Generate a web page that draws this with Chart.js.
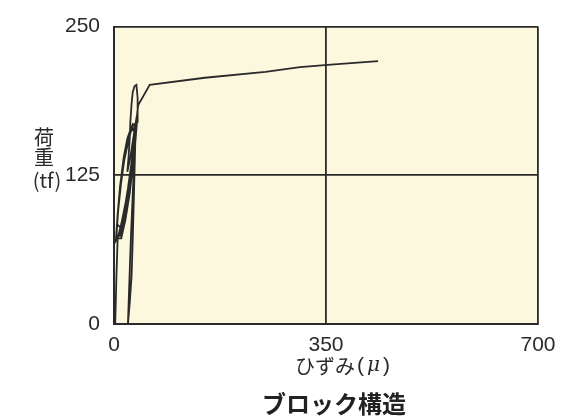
<!DOCTYPE html>
<html>
<head>
<meta charset="utf-8">
<script src="https://cdn.jsdelivr.net/npm/chart.js@4.4.0/dist/chart.umd.min.js"></script>
<style>
  html, body { margin: 0; padding: 0; background: #ffffff; }
  #wrap { width: 588px; height: 420px; }
</style>
</head>
<body>
<div id="wrap"><canvas id="c"></canvas></div>
<script>
// Load–strain record of the block structure (strain in μ, load in tf)
const strain = [
  2, 4, 6, 12, 20, 27, 32, 34,
  30, 24, 17, 11, 6, 3,
  9, 16, 23, 29, 33, 35,
  31, 25, 18, 12, 7, 4,
  11, 18, 25, 30, 34, 33,
  28, 21, 15, 9, 5,
  13, 20, 27, 31, 35, 34,
  29, 22, 16, 10, 6, 4,
  12, 19, 26, 31, 34, 36,
  35, 33, 31, 29, 26, 23,
  25, 28, 31, 34, 38, 39, 37, 34, 31,
  29, 27, 26, 24, 22,
  27, 33, 38, 40, 59, 150, 250, 307, 358, 436
];
const load = [
  0, 40, 72, 84, 104, 125, 145, 162,
  166, 154, 138, 116, 92, 70,
  76, 92, 114, 136, 152, 166,
  168, 158, 142, 120, 96, 74,
  74, 90, 112, 132, 150, 164,
  162, 150, 132, 108, 84,
  80, 98, 120, 138, 156, 168,
  166, 156, 140, 116, 92, 72,
  72, 88, 110, 132, 150, 168,
  150, 110, 72, 40, 18, 0,
  30, 74, 110, 145, 170, 190, 201, 200, 195,
  185, 170, 156, 140, 128,
  140, 160, 176, 184, 201, 207, 212, 216, 218, 221
];

const xTicks = [0, 350, 700];
const yTicks = [0, 125, 250];
const yTitleLines = ['荷', '重', '(tf)'];
const xTitleMain = 'ひずみ';
const xTitleUnit = 'μ';
const caption = 'ブロック構造';

const points = strain.map((v, i) => ({ x: v, y: load[i] }));

const INK = '#2a2a2a';
const PANEL = '#fcf8dd';

// Cream panel behind the plot area
const panelBg = {
  id: 'panelBg',
  beforeDraw(chart) {
    const { ctx, chartArea: a } = chart;
    ctx.save();
    ctx.fillStyle = PANEL;
    ctx.fillRect(a.left, a.top, a.right - a.left, a.bottom - a.top);
    ctx.restore();
  }
};

// Axis titles and caption
const labels = {
  id: 'labels',
  afterDraw(chart) {
    const { ctx } = chart;
    ctx.save();
    ctx.fillStyle = INK;
    ctx.textBaseline = 'middle';
    ctx.textAlign = 'center';

    // vertical stacked y title
    ctx.font = '20px "Noto Sans CJK JP"';
    ctx.fillText(yTitleLines[0], 44, 137);
    ctx.fillText(yTitleLines[1], 44, 157);
    ctx.font = '20px "Noto Sans CJK JP"';
    ctx.fillText(yTitleLines[2], 47, 180);

    // x title: ひずみ (μ)
    ctx.textAlign = 'left';
    let x = 295;
    const y = 366;
    ctx.font = '20px "Noto Sans CJK JP"';
    ctx.fillText(xTitleMain, x, y);
    x += ctx.measureText(xTitleMain).width + 2;
    ctx.font = '21px "Liberation Sans"';
    ctx.fillText('(', x, y);
    x += ctx.measureText('(').width + 3;
    ctx.font = 'italic 20px "DejaVu Serif"';
    ctx.fillText(xTitleUnit, x, y);
    x += ctx.measureText(xTitleUnit).width + 3;
    ctx.font = '21px "Liberation Sans"';
    ctx.fillText(')', x, y);

    // caption
    ctx.textAlign = 'center';
    ctx.font = 'bold 24px "Noto Sans CJK JP"';
    ctx.fillStyle = '#222';
    ctx.fillText(caption, 334, 404);
    ctx.restore();
  }
};

new Chart(document.getElementById('c'), {
  type: 'scatter',
  data: {
    datasets: [{
      data: points,
      showLine: true,
      borderColor: INK,
      borderWidth: 1.8,
      pointRadius: 0,
      tension: 0,
      fill: false
    }]
  },
  options: {
    responsive: true,
    maintainAspectRatio: false,
    animation: false,
    events: [],
    layout: { padding: { left: 0, right: 50, top: 23, bottom: 0 } },
    plugins: { legend: { display: false }, tooltip: { enabled: false }, title: { display: false } },
    scales: {
      x: {
        type: 'linear',
        min: 0,
        max: 700,
        afterBuildTicks(s) { s.ticks = xTicks.map(v => ({ value: v })); },
        afterFit(s) { s.height = 96; },
        grid: { color: INK, lineWidth: 1.8, drawTicks: false },
        border: { display: true, color: INK, width: 2 },
        ticks: {
          color: INK,
          padding: 9,
          maxRotation: 0,
          font: { family: '"Liberation Sans"', size: 21 }
        }
      },
      y: {
        type: 'linear',
        min: 0,
        max: 250,
        afterBuildTicks(s) { s.ticks = yTicks.map(v => ({ value: v })); },
        afterFit(s) { s.width = 114; },
        grid: { color: INK, lineWidth: 1.8, drawTicks: false },
        border: { display: true, color: INK, width: 2 },
        ticks: {
          color: INK,
          padding: 14,
          font: { family: '"Liberation Sans"', size: 21 }
        }
      }
    }
  },
  plugins: [panelBg, labels]
});
</script>
</body>
</html>
